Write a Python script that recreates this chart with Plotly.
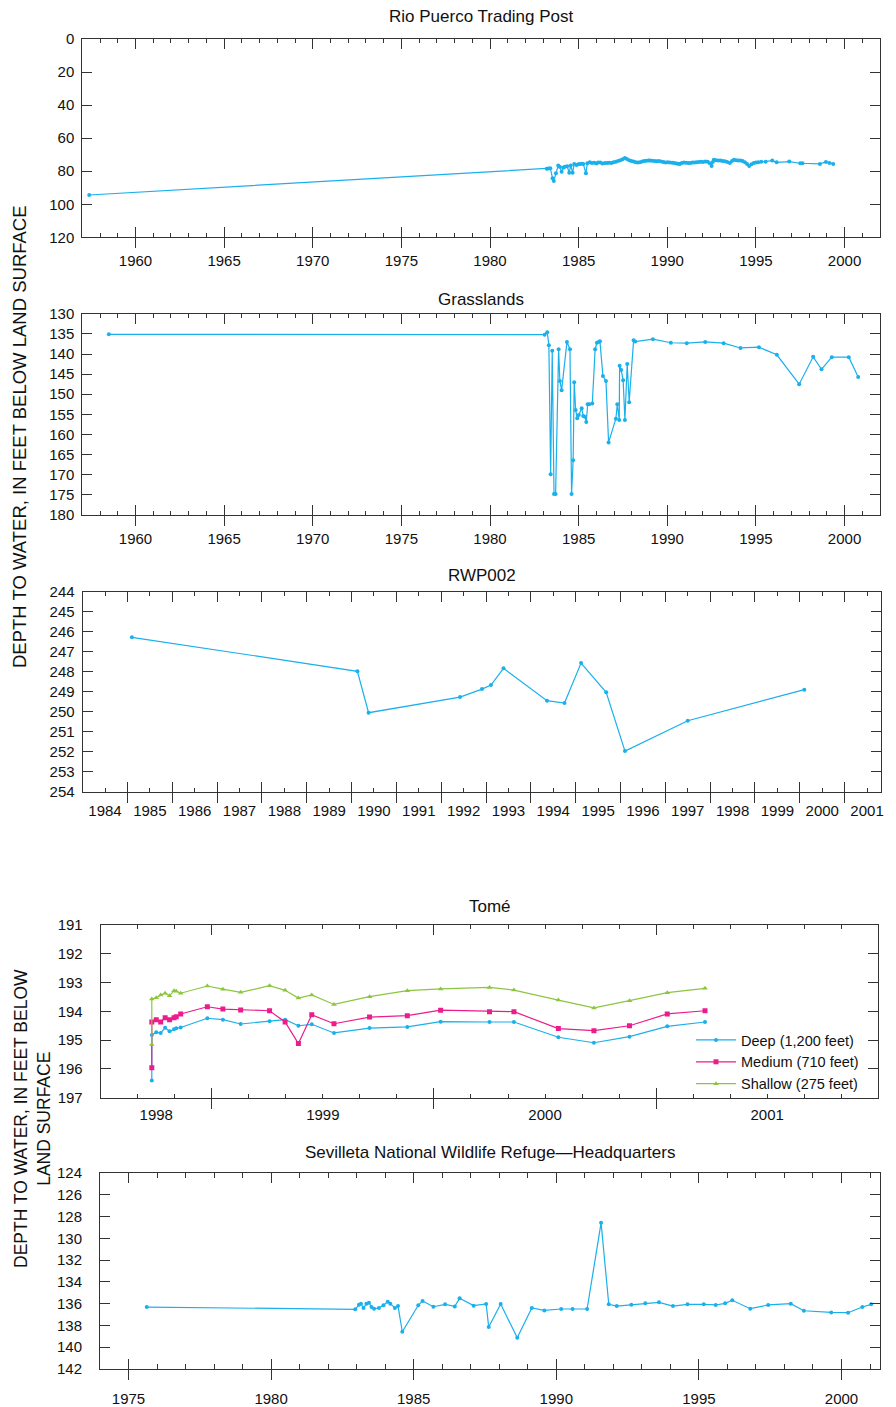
import plotly.graph_objects as go

# page offset of the plot div (browser default body margin)
OFF = 8
W, H = 896 - OFF, 1407 - OFF
BLUE = "#1AB0EC"
MAG = "#EC1C8C"
GREEN = "#8CC63F"
AX = "#333333"
FONT = "Liberation Sans, Arial, Helvetica, sans-serif"

# ---------------- data ----------------
rio_year = [1957.39, 1983.20, 1983.28, 1983.40, 1983.53, 1983.60, 1983.72, 1983.85, 1983.95, 1984.04,
            1984.15, 1984.22, 1984.35, 1984.47, 1984.55, 1984.66, 1984.75, 1984.88, 1984.98, 1985.07,
            1985.17, 1985.26, 1985.41, 1985.49, 1985.63, 1985.75, 1985.88, 1986.00, 1986.10, 1986.22,
            1986.35, 1986.48, 1986.60, 1986.72, 1986.85, 1986.97, 1987.10, 1987.22, 1987.35, 1987.48,
            1987.61, 1987.72, 1987.85, 1987.97, 1988.10, 1988.22, 1988.34, 1988.46, 1988.58, 1988.70,
            1988.82, 1988.94, 1989.02, 1989.15, 1989.28, 1989.40, 1989.52, 1989.65, 1989.78, 1989.90,
            1990.02, 1990.15, 1990.28, 1990.40, 1990.52, 1990.62, 1990.71, 1990.82, 1990.94, 1991.06,
            1991.18, 1991.30, 1991.42, 1991.54, 1991.65, 1991.78, 1991.90, 1992.02, 1992.15, 1992.28,
            1992.40, 1992.50, 1992.57, 1992.63, 1992.75, 1992.88, 1993.00, 1993.12, 1993.25, 1993.38,
            1993.53, 1993.65, 1993.76, 1993.88, 1994.00, 1994.12, 1994.25, 1994.38, 1994.50, 1994.62,
            1994.75, 1994.88, 1995.00, 1995.13, 1995.30, 1995.55, 1995.92, 1996.17, 1996.88, 1997.50,
            1997.63, 1998.61, 1998.95, 1999.15, 1999.36]
rio_depth = [94.4, 78.5, 78.3, 78.2, 84.3, 85.9, 81.3, 76.5, 77.5, 80.3,
             77.8, 77.3, 77.0, 80.9, 76.5, 80.9, 75.6, 76.2, 75.8, 75.6,
             75.5, 75.6, 81.3, 75.2, 74.6, 75.0, 74.9, 75.3, 74.7, 74.8,
             75.4, 75.1, 75.0, 74.9, 75.0, 74.6, 74.3, 73.9, 73.4, 72.8,
             72.0, 72.6, 73.3, 73.8, 74.2, 74.6, 74.8, 74.6, 74.2, 73.9,
             73.7, 73.6, 73.6, 73.7, 73.9, 74.0, 73.9, 74.2, 74.4, 74.7,
             74.6, 74.8, 74.9, 75.1, 75.3, 75.5, 75.6, 75.0, 74.7, 74.9,
             75.1, 75.0, 74.8, 74.7, 74.6, 74.4, 74.3, 74.5, 74.2, 74.3,
             75.2, 76.8, 74.5, 73.0, 73.4, 73.6, 73.5, 73.8, 74.0, 74.4,
             75.0, 73.8, 73.0, 73.3, 73.5, 73.6, 73.9, 74.6, 75.6, 76.8,
             75.8, 75.0, 74.8, 74.6, 74.3, 74.3, 73.6, 74.6, 74.2, 75.2,
             75.2, 75.6, 74.4, 75.1, 75.6]

grass_year = [1958.5, 1983.08, 1983.23, 1983.32, 1983.42, 1983.51, 1983.61, 1983.70, 1983.87, 1983.94,
              1984.04, 1984.34, 1984.51, 1984.60, 1984.69, 1984.75, 1984.83, 1984.92, 1985.01, 1985.17,
              1985.26, 1985.35, 1985.43, 1985.51, 1985.60, 1985.77, 1985.93, 1986.03, 1986.13, 1986.20,
              1986.37, 1986.54, 1986.69, 1987.10, 1987.18, 1987.29, 1987.31, 1987.40, 1987.51, 1987.61,
              1987.74, 1987.85, 1988.10, 1988.19, 1989.19, 1990.20, 1991.10, 1992.14, 1993.18, 1994.13,
              1995.17, 1996.18, 1997.44, 1998.23, 1998.70, 1999.28, 2000.24, 2000.77]
grass_depth = [135.1, 135.2, 134.6, 137.8, 169.9, 139.2, 174.8, 174.8, 138.8, 146.7,
               149.0, 137.0, 138.8, 174.8, 166.4, 147.0, 153.9, 156.0, 155.2, 153.5,
               155.4, 155.6, 156.9, 152.5, 152.5, 152.3, 138.8, 137.2, 137.0, 136.8,
               145.5, 146.7, 162.0, 156.1, 152.5, 156.4, 142.9, 144.0, 146.5, 156.4,
               142.5, 152.0, 136.6, 136.9, 136.3, 137.2, 137.3, 137.0, 137.3, 138.5,
               138.3, 140.2, 147.5, 140.7, 143.8, 140.8, 140.8, 145.7]

rwp_year = [1985.10, 1990.13, 1990.38, 1992.42, 1992.91, 1993.11, 1993.39, 1994.36, 1994.75, 1995.12,
            1995.68, 1996.10, 1997.50, 2000.10]
rwp_depth = [246.28, 247.98, 250.05, 249.27, 248.87, 248.67, 247.83, 249.45, 249.57, 247.57,
             249.03, 251.97, 250.45, 248.90]

tome_year = [1998.73, 1998.73, 1998.75, 1998.77, 1998.79, 1998.81, 1998.83, 1998.84, 1998.86, 1998.98,
             1999.05, 1999.13, 1999.26, 1999.33, 1999.39, 1999.45, 1999.55, 1999.71, 1999.88, 2000.03,
             2000.25, 2000.36, 2000.56, 2000.72, 2000.88, 2001.05, 2001.22]
tome_deep = [196.40, 194.82, 194.73, 194.75, 194.57, 194.69, 194.62, 194.59, 194.56, 194.24,
             194.29, 194.44, 194.34, 194.29, 194.50, 194.45, 194.75, 194.58, 194.54, 194.36,
             194.37, 194.37, 194.90, 195.09, 194.88, 194.52, 194.37]
tome_medium = [195.96, 194.37, 194.29, 194.37, 194.22, 194.29, 194.22, 194.19, 194.09, 193.84,
               193.92, 193.95, 193.98, 194.37, 195.12, 194.12, 194.43, 194.20, 194.15, 193.96,
               194.01, 194.01, 194.60, 194.67, 194.50, 194.09, 193.98]
tome_shallow = [195.15, 193.57, 193.53, 193.43, 193.37, 193.46, 193.28, 193.30, 193.37, 193.12,
                193.23, 193.34, 193.11, 193.27, 193.54, 193.43, 193.76, 193.49, 193.28, 193.22,
                193.17, 193.26, 193.61, 193.88, 193.63, 193.35, 193.20]
tome_names = ["Deep (1,200 feet)", "Medium (710 feet)", "Shallow (275 feet)"]

sev_year = [1975.64, 1982.95, 1983.08, 1983.15, 1983.24, 1983.34, 1983.43, 1983.52, 1983.61, 1983.78,
            1983.94, 1984.09, 1984.18, 1984.34, 1984.45, 1984.60, 1985.16, 1985.31, 1985.69, 1986.10,
            1986.44, 1986.61, 1987.10, 1987.54, 1987.63, 1988.05, 1988.63, 1989.14, 1989.58, 1990.17,
            1990.57, 1991.08, 1991.57, 1991.84, 1992.12, 1992.63, 1993.12, 1993.60, 1994.09, 1994.60,
            1995.17, 1995.59, 1995.92, 1996.17, 1996.80, 1997.43, 1998.22, 1998.68, 1999.64, 2000.23,
            2000.73, 2001.04]
sev_depth = [136.31, 136.52, 136.09, 136.00, 136.40, 136.00, 135.91, 136.31, 136.46, 136.40,
             136.15, 135.82, 136.00, 136.40, 136.22, 138.58, 136.15, 135.75, 136.28, 136.06,
             136.25, 135.51, 136.18, 136.03, 138.15, 136.03, 139.14, 136.40, 136.62, 136.49,
             136.49, 136.49, 128.58, 136.06, 136.22, 136.09, 135.97, 135.88, 136.22, 136.06,
             136.06, 136.12, 135.97, 135.69, 136.46, 136.12, 136.00, 136.65, 136.80, 136.83,
             136.31, 136.06]

titles = ["Rio Puerco Trading Post", "Grasslands", "RWP002", "Tomé",
          "Sevilleta National Wildlife Refuge\u2014Headquarters"]
ytitle = "DEPTH TO WATER, IN FEET BELOW LAND SURFACE"

# ---------------- layout geometry (reference pixels) ----------------
boxes = [  # left, right, top, bottom
    (82.3, 880.0, 39.0, 237.3),
    (82.3, 880.0, 313.8, 514.8),
    (82.6, 880.5, 591.7, 791.7),
    (100.7, 878.3, 925.0, 1097.7),
    (100.0, 880.0, 1173.0, 1369.0),
]
xranges = [(1957.0, 2002.0), (1957.0, 2002.0), (1984.0, 2001.8), (1998.5, 2002.0), (1974.0, 2001.35)]
yranges = [(120, 0), (180, 130), (254, 244), (197, 191), (142, 124)]
ydticks = [20, 5, 1, 1, 2]


def px_x(p):
    return (p - OFF) / W


def px_y(p):
    return 1 - (p - OFF) / H


fig = go.Figure()


def add_series(i, x, y, color, symbol, size, name=None, legend=False):
    ax = "" if i == 1 else str(i)
    fig.add_trace(go.Scatter(
        x=x, y=y, mode="lines+markers", name=name, showlegend=legend,
        line=dict(color=color, width=1.2),
        marker=dict(color=color, symbol=symbol, size=size, line=dict(width=0)),
        xaxis="x" + ax, yaxis="y" + ax, hoverinfo="skip"))


add_series(1, rio_year, rio_depth, BLUE, "circle", 4)
add_series(2, grass_year, grass_depth, BLUE, "circle", 4)
add_series(3, rwp_year, rwp_depth, BLUE, "circle", 4)
add_series(4, tome_year, tome_deep, BLUE, "circle", 4, tome_names[0], True)
add_series(4, tome_year, tome_medium, MAG, "square", 5, tome_names[1], True)
add_series(4, tome_year, tome_shallow, GREEN, "triangle-up", 5, tome_names[2], True)
add_series(5, sev_year, sev_depth, BLUE, "circle", 4)


def frange(a, b, s):
    out = []
    v = a
    while v <= b + 1e-9:
        out.append(round(v, 6))
        v += s
    return out


label_vals = [
    frange(1960, 2000, 5), frange(1960, 2000, 5),
    [y + 0.5 for y in range(1984, 2002)],
    [1998.75, 1999.5, 2000.5, 2001.5],
    frange(1975, 2000, 5),
]
label_text = [
    [str(int(v)) for v in label_vals[0]], [str(int(v)) for v in label_vals[1]],
    [str(y) for y in range(1984, 2002)],
    ["1998", "1999", "2000", "2001"],
    [str(int(v)) for v in label_vals[4]],
]
label_len = [10, 10, 4, 0, 10]
minor_vals = [
    frange(1957, 2002, 1), frange(1957, 2002, 1),
    [y + 0.5 for y in range(1984, 2002)],
    frange(1998.5, 2002.0, 1 / 6),
    frange(1974, 2001, 1),
]
minor_len = [4, 4, 4, 4, 5]
long_vals = [
    frange(1960, 2000, 5), frange(1960, 2000, 5),
    list(range(1985, 2002)),
    [1999, 2000, 2001],
    frange(1975, 2000, 5),
]
standoff = [10, 10, 5, 3, 16]

layout = dict(
    width=W, height=H, margin=dict(l=0, r=0, t=0, b=0, autoexpand=False),
    paper_bgcolor="white", plot_bgcolor="white",
    font=dict(family=FONT, size=15, color="#111111"),
    showlegend=True,
    legend=dict(x=px_x(691), y=px_y(1024), xanchor="left", yanchor="top",
                bgcolor="rgba(0,0,0,0)", font=dict(size=14.5, family=FONT, color="#111"),
                tracegroupgap=0, itemwidth=40),
)

ann = []
for i in range(5):
    n = i + 1
    ax = "" if n == 1 else str(n)
    l, r, t, b = boxes[i]
    xdom = [px_x(l), px_x(r)]
    ydom = [px_y(b), px_y(t)]
    layout["xaxis" + ax] = dict(
        domain=xdom, anchor="y" + ax, range=list(xranges[i]), automargin=False,
        showgrid=False, zeroline=False, showline=True, linecolor=AX, linewidth=1,
        mirror="ticks", ticks="inside", ticklen=label_len[i], tickwidth=1, tickcolor=AX,
        tickmode="array", tickvals=label_vals[i], ticktext=label_text[i],
        ticklabelstandoff=standoff[i], tickfont=dict(size=15, family=FONT, color="#111"),
        minor=dict(tickmode="array", tickvals=minor_vals[i], ticks="inside",
                   ticklen=minor_len[i], tickwidth=1, tickcolor=AX, showgrid=False),
    )
    layout["yaxis" + ax] = dict(
        domain=ydom, anchor="x" + ax, range=list(yranges[i]), automargin=False,
        showgrid=False, zeroline=False, showline=True, linecolor=AX, linewidth=1,
        mirror="ticks", ticks="inside", ticklen=10, tickwidth=1, tickcolor=AX,
        tickmode="linear", tick0=yranges[i][1], dtick=ydticks[i],
        ticklabelstandoff=(4 if n in (1, 2, 3) else 14),
        tickfont=dict(size=15, family=FONT, color="#111"),
    )
    # overlay axis: outward half of the long ticks (bottom)
    oa = str(n + 5)
    layout["xaxis" + oa] = dict(
        domain=xdom, anchor="y" + ax, overlaying="x" + ax, range=list(xranges[i]),
        automargin=False, showgrid=False, zeroline=False, showline=False, side="bottom",
        ticks="outside", ticklen=10, tickwidth=1, tickcolor=AX,
        tickmode="array", tickvals=long_vals[i], showticklabels=False,
    )
    fig.add_trace(go.Scatter(x=[xranges[i][0]], y=[yranges[i][1]], mode="none",
                             xaxis="x" + oa, yaxis="y" + ax, showlegend=False, hoverinfo="skip"))
    # overlay axis: inward long ticks at year boundaries (panels 3 and 4)
    if n in (3, 4):
        ob = str(n + 10)
        layout["xaxis" + ob] = dict(
            domain=xdom, anchor="y" + ax, overlaying="x" + ax, range=list(xranges[i]),
            automargin=False, showgrid=False, zeroline=False, showline=False, side="bottom",
            mirror="ticks", ticks="inside", ticklen=10, tickwidth=1, tickcolor=AX,
            tickmode="array", tickvals=long_vals[i], showticklabels=False,
        )
        fig.add_trace(go.Scatter(x=[xranges[i][0]], y=[yranges[i][1]], mode="none",
                                 xaxis="x" + ob, yaxis="y" + ax, showlegend=False, hoverinfo="skip"))

    title_y = [17, 299, 575, 907, 1152][i]
    ann.append(dict(text=titles[i], x=px_x((l + r) / 2), y=px_y(title_y), xref="paper", yref="paper",
                    xanchor="center", yanchor="middle", showarrow=False,
                    font=dict(size=17, family=FONT, color="#111")))

ann.append(dict(text=ytitle, x=px_x(20), y=px_y(437), xref="paper", yref="paper",
                xanchor="center", yanchor="middle", showarrow=False, textangle=-90,
                font=dict(size=18.5, family=FONT, color="#111")))
ann.append(dict(text="DEPTH TO WATER, IN FEET BELOW<br>LAND SURFACE", x=px_x(32), y=px_y(1119),
                xref="paper", yref="paper", xanchor="center", yanchor="middle", showarrow=False,
                textangle=-90, font=dict(size=17.5, family=FONT, color="#111")))
layout["annotations"] = ann

fig.update_layout(**layout)
fig.write_html("out.html")
